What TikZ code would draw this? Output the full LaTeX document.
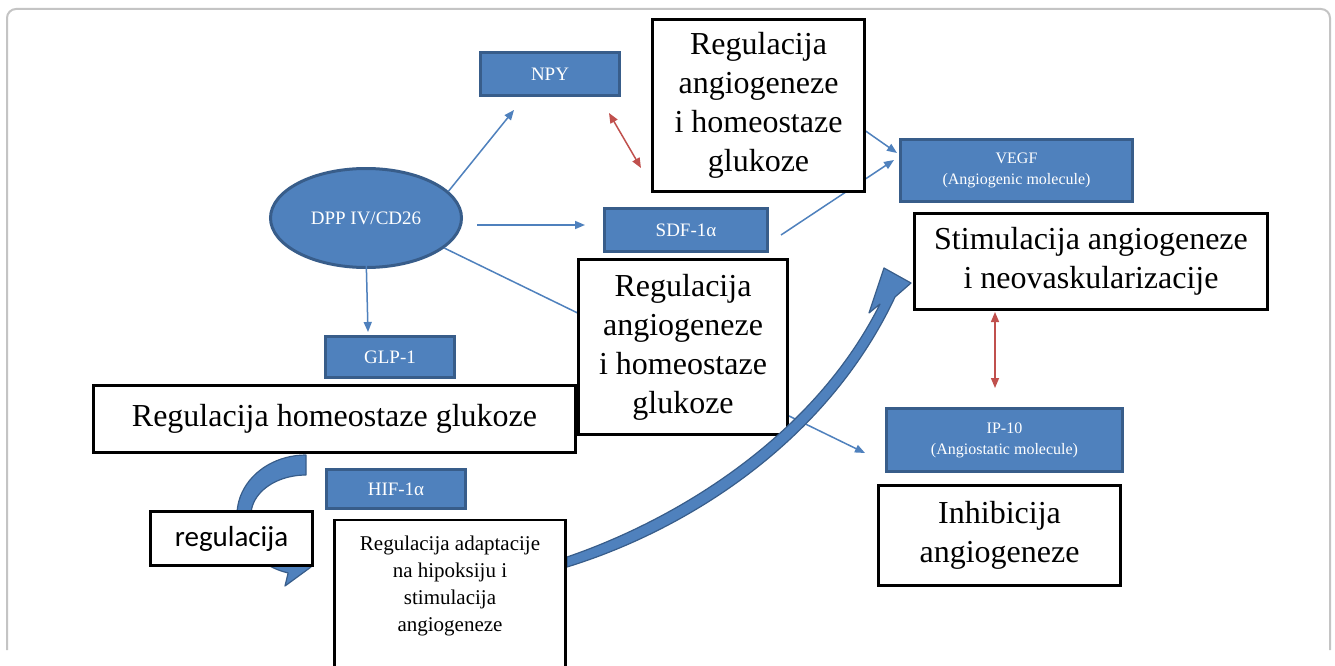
\documentclass[tikz,border=0pt]{standalone}
\usepackage{fontspec}
\setmainfont{Liberation Serif}
\newfontfamily\calib{Carlito}
\usetikzlibrary{arrows.meta,shapes.geometric}
\definecolor{obl}{HTML}{4F81BD}
\definecolor{obd}{HTML}{385D8A}
\definecolor{ored}{HTML}{C0504D}
\definecolor{frm}{HTML}{C4C4C4}
\begin{document}
\begin{tikzpicture}[x=1pt,y=-1pt,
 bbox/.style={draw=obd, fill=obl, line width=3pt, text=white, inner sep=0pt, align=center},
 wbox/.style={draw=black, fill=white, line width=2.5pt, inner sep=0pt, align=center},
 barrow/.style={draw=obl, line width=1.5pt, -{Triangle[length=10pt,width=8pt]}},
 rarrow/.style={draw=ored, line width=1.5pt, {Triangle[length=10pt,width=8pt]}-{Triangle[length=10pt,width=8pt]}},
 bigf/.style={font=\fontsize{32}{39}\selectfont},
 midf/.style={font=\fontsize{19}{22}\selectfont},
 smf/.style={font=\fontsize{16}{21}\selectfont},
 blockarrow/.style={fill=obl, draw=obd, line width=1.2pt, line join=round}
]
\useasboundingbox (0,0) rectangle (1335,666);
\fill[white] (0,0) rectangle (1335,666);
\draw[frm, line width=2pt, rounded corners=9pt] (7,650) -- (7,9) -- (1330,9) -- (1330,650);

% coordinates for connector free ends
\coordinate (npyin) at (514,110);
\coordinate (sdfout0) at (477,225);
\coordinate (sdfin) at (585,225);
\coordinate (glpout0) at (366,253);
\coordinate (glpin) at (368,332);
\coordinate (ipin) at (865,453);
\coordinate (sdfo) at (781,235);
\coordinate (vegfin1) at (894,160);
\coordinate (hid) at (800,85);
\coordinate (vegfin2) at (897,153);
\coordinate (r1a) at (609,113);
\coordinate (r1b) at (641,168);
\coordinate (r2a) at (995,312);
\coordinate (r2b) at (995,388);

% blue nodes
\node[ellipse, draw=obd, fill=obl, line width=3pt, text=white, minimum width=191pt, minimum height=99pt, inner sep=0pt, midf] (dpp) at (366,218) {DPP IV/CD26};
\node[bbox, midf, minimum width=139pt, minimum height=43pt] (npy) at (550,74) {NPY};
\node[bbox, midf, minimum width=163pt, minimum height=43pt] (sdf) at (686,230) {SDF-1α};
\node[bbox, midf, minimum width=129pt, minimum height=41pt] (glp) at (390,357) {GLP-1};
\node[bbox, midf, minimum width=139pt, minimum height=39pt] (hif) at (396,489) {HIF-1α};
\node[bbox, smf, minimum width=232pt, minimum height=62pt] (vegf) at (1016.5,170.5) {VEGF\\(Angiogenic molecule)};
\node[bbox, smf, minimum width=236pt, minimum height=63pt] (ip) at (1004.5,440) {IP-10\\(Angiostatic molecule)};

% thin connectors
\draw[barrow] (dpp.18) -- (npyin);
\draw[barrow] (sdfout0) -- (sdfin);
\draw[barrow] (glpout0) -- (glpin);
\draw[barrow] (dpp.-21) -- (ipin);
\draw[barrow] (sdfo) -- (vegfin1);
\draw[barrow] (hid) -- (vegfin2);
\draw[rarrow] (r1a) -- (r1b);
\draw[rarrow] (r2a) -- (r2b);

% white boxes
\node[wbox, bigf, minimum width=212pt, minimum height=172pt] (b1) at (758.5,105.5) {Regulacija\\angiogeneze\\i homeostaze\\glukoze};
\node[wbox, bigf, minimum width=209pt, minimum height=175pt] (b2) at (683,347) {Regulacija\\angiogeneze\\i homeostaze\\glukoze};
\node[wbox, bigf, minimum width=482pt, minimum height=67pt] (b3) at (334.5,419) {Regulacija homeostaze glukoze};
\node[wbox, bigf, minimum width=353pt, minimum height=96pt] (b4) at (1091,261.5) {Stimulacija angiogeneze\\i neovaskularizacije};
\node[wbox, bigf, minimum width=242pt, minimum height=100pt] (b5) at (999.5,535.5) {Inhibicija\\angiogeneze};

% small curved block arrow
\path[blockarrow]
  plot[domain=90:255, samples=40] ({306+69*cos(\x)},{515-60*sin(\x)})
  -- (285,586) -- (311,567) -- (294,542)
  -- plot[domain=255:90, samples=40] ({306+55*cos(\x)},{515-40*sin(\x)})
  -- cycle;
\node[wbox, font=\calib\fontsize{29}{34}\selectfont, minimum width=162pt, minimum height=54pt] (b6) at (231.5,538.5) {regulacija};

% big curved block arrow
\path[blockarrow]
  (567,557) .. controls (678,519) and (814,436) .. (880,304)
  -- (869,313) -- (884,268) -- (911,283) -- (895,297)
  .. controls (826,444) and (684,531) .. (567,567) -- cycle;

\node[wbox, minimum width=231pt, minimum height=180pt] (b7) at (450,610) {};
\node[font=\fontsize{21}{27}\selectfont, align=center, inner sep=0pt, anchor=north] (b7t) at (450,536) {Regulacija adaptacije\\na hipoksiju i\\stimulacija\\angiogeneze};
\end{tikzpicture}
\end{document}
